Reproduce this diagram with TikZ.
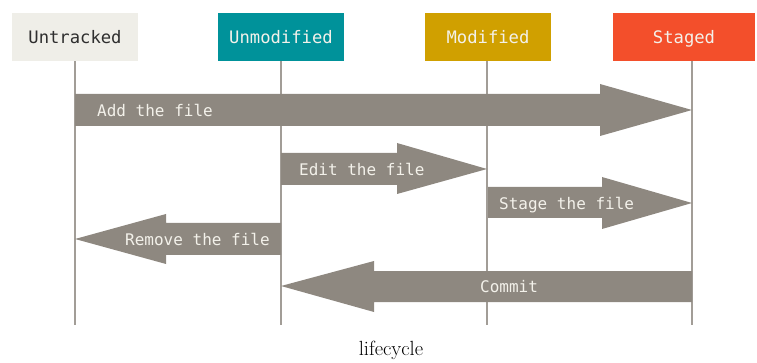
\documentclass[tikz,border=0pt]{standalone}
\usepackage{fontspec}
\newfontfamily\monofnt{DejaVu Sans Mono}
\definecolor{untrackedc}{HTML}{EFEEE8}
\definecolor{unmodc}{HTML}{00929A}
\definecolor{modc}{HTML}{D0A000}
\definecolor{stagedc}{HTML}{F34F2B}
\definecolor{arrowc}{HTML}{8E8880}
\definecolor{linec}{HTML}{A29D97}
\definecolor{lighttxt}{HTML}{F3F1EA}
\definecolor{darktxt}{HTML}{2E2E2E}
\tikzset{
  statebox/.style={minimum width=126pt, minimum height=48pt, inner sep=0pt, text height=14pt, text depth=0pt, text=lighttxt, font=\monofnt\fontsize{17.2}{20}\selectfont},
  lifeline/.style={draw=linec, line width=1.4pt},
  fat/.style={fill=arrowc, draw=none},
  arrowtxt/.style={anchor=west, inner sep=0pt, text height=13pt, text depth=0pt, text=lighttxt, font=\monofnt\fontsize{16}{19}\selectfont}
}
\begin{document}
\begin{tikzpicture}[x=1pt,y=-1pt]
\useasboundingbox (0,0) rectangle (757,363);
% state boxes
\node[statebox, fill=untrackedc, text=darktxt] (untracked) at (75,37) {Untracked};
\node[statebox, fill=unmodc] (unmod) at (281,37) {Unmodified};
\node[statebox, fill=modc] (mod) at (488,37) {Modified};
\node[statebox, fill=stagedc, minimum width=142pt] (staged) at (684,37) {Staged};
% lifeline ends
\coordinate (untrackedEnd) at (75,325);
\coordinate (unmodEnd) at (281,325);
\coordinate (modTop) at (487,61);
\coordinate (modEnd) at (487,325);
\coordinate (stagedTop) at (692,61);
\coordinate (stagedEnd) at (692,325);
\draw[lifeline] (untracked.south) -- (untrackedEnd);
\draw[lifeline] (unmod.south) -- (unmodEnd);
\draw[lifeline] (modTop) -- (modEnd);
\draw[lifeline] (stagedTop) -- (stagedEnd);
% fat arrows
\fill[fat] (75,94) -- (600,94) -- (600,84) -- (692,110) -- (600,136) -- (600,126) -- (75,126) -- cycle;
\fill[fat] (281,153) -- (397,153) -- (397,143) -- (487,169) -- (397,194) -- (397,185) -- (281,185) -- cycle;
\fill[fat] (488,187) -- (602,187) -- (602,177) -- (692,203) -- (602,229) -- (602,218) -- (488,218) -- cycle;
\fill[fat] (75,239) -- (166,214) -- (166,223) -- (281,223) -- (281,255) -- (166,255) -- (166,264) -- cycle;
\fill[fat] (281,286) -- (374,261) -- (374,271) -- (692,271) -- (692,302) -- (374,302) -- (374,312) -- cycle;
% arrow labels
\node[arrowtxt] (add) at (97,110) {Add the file};
\node[arrowtxt] (edit) at (299,169) {Edit the file};
\node[arrowtxt] (stage) at (499,203) {Stage the file};
\node[arrowtxt] (remove) at (125,239) {Remove the file};
\node[arrowtxt] (commit) at (480,286) {Commit};
% caption
\node[font=\fontsize{20.5}{24}\selectfont, inner sep=0pt] (caption) at (391,350) {lifecycle};
\end{tikzpicture}
\end{document}
